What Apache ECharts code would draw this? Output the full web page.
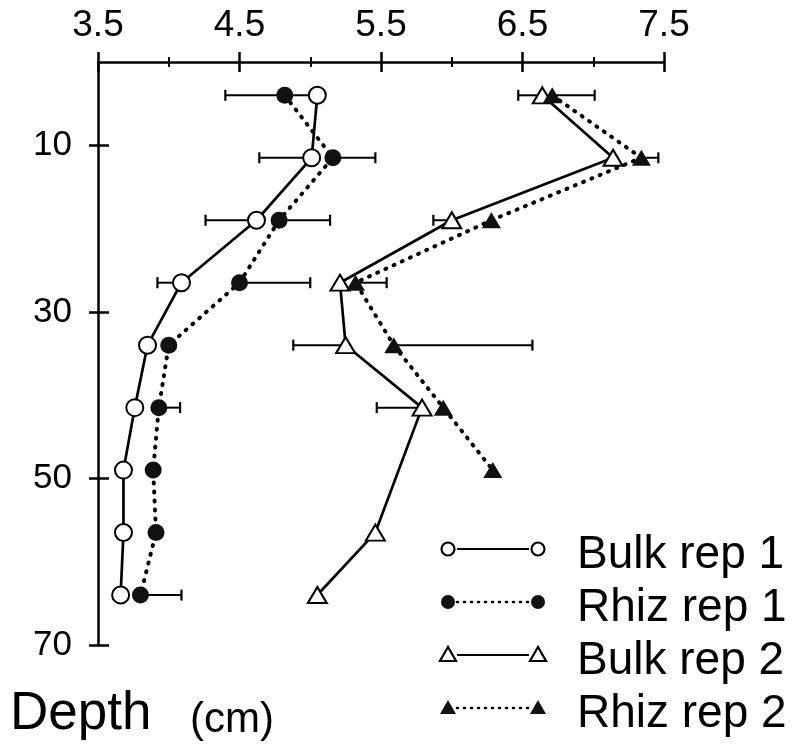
<!DOCTYPE html>
<html>
<head>
<meta charset="utf-8">
<script src="https://cdn.jsdelivr.net/npm/echarts@6/dist/echarts.min.js"></script>
<style>
html,body{margin:0;padding:0;background:#fff;}
#chart{width:794px;height:745px;}
</style>
</head>
<body>
<div id="chart"></div>
<script>
// ---- data ----
const depths = [4, 11.5, 19, 26.5, 34, 41.5, 49, 56.5, 64];
const bulkRep1 = [5.05, 5.01, 4.62, 4.09, 3.85, 3.76, 3.68, 3.68, 3.66];
const rhizRep1 = [4.82, 5.16, 4.78, 4.50, 4.00, 3.93, 3.89, 3.91, 3.80];
const bulkRep2 = [6.64, 7.14, 6.00, 5.21, 5.25, 5.79, null, 5.46, 5.05];
const rhizRep2 = [6.71, 7.34, 6.28, 5.32, 5.59, 5.94, 6.29, null, null];
// error bar ends (one-sided bars as drawn), null = not visible
const bulkRep1End = [4.40, 4.64, 4.26, 3.92, null, null, null, null, null];
const rhizRep1End = [null, 5.46, 5.14, 5.00, null, 4.08, null, null, 4.09];
const bulkRep2End = [6.47, null, 5.87, null, 4.88, 5.47, null, null, null];
const rhizRep2End = [7.01, 7.46, null, 5.54, 6.57, null, null, null, null];
const xTicks = [3.5, 4.5, 5.5, 6.5, 7.5];
const yTicks = [10, 30, 50, 70];
const seriesNames = ['Bulk rep 1', 'Rhiz rep 1', 'Bulk rep 2', 'Rhiz rep 2'];
const axisTitle = 'Depth';
const axisUnit = '(cm)';

// ---- build ----
const FONT = '"Liberation Sans", Arial, sans-serif';
function pairs(vals) {
  const out = [];
  depths.forEach((d, i) => { if (vals[i] != null) out.push([vals[i], d]); });
  return out;
}
function errs(vals, ends) {
  const out = [];
  depths.forEach((d, i) => { if (vals[i] != null && ends[i] != null) out.push([d, vals[i], ends[i]]); });
  return out;
}
const errData = [].concat(
  errs(bulkRep1, bulkRep1End), errs(rhizRep1, rhizRep1End),
  errs(bulkRep2, bulkRep2End), errs(rhizRep2, rhizRep2End));

const solid = {color: '#000', width: 2.7, type: 'solid'};
const dotted = {color: '#000', width: 4, type: [1, 8], cap: 'round'};

function lineSeries(name, vals, symbol, size, filled, ls) {
  return {
    name: name, type: 'line', xAxisIndex: 0, yAxisIndex: 0,
    data: pairs(vals), symbol: symbol, symbolSize: size, showSymbol: true,
    connectNulls: true, silent: true, animation: false, z: 3,
    lineStyle: ls,
    itemStyle: filled ? {color: '#111', borderWidth: 0}
                      : {color: '#000', borderColor: '#000', borderWidth: 2.5},
    emphasis: {disabled: true}
  };
}

const xAxisBase = {
  type: 'value', position: 'top', min: xTicks[0], max: xTicks[xTicks.length - 1], interval: 1,
  splitLine: {show: false}
};
const yAxisBase = {
  type: 'value', position: 'left', inverse: true, min: 0, max: 70, interval: 10,
  splitLine: {show: false}
};

// legend drawn as graphics (symbol — line — symbol  text)
const legendX1 = 448, legendX2 = 538, legendTextX = 577;
const legendBase = [570, 623, 676, 729];
const legendGraphics = [];
seriesNames.forEach((name, i) => {
  const cy = legendBase[i] - 21;
  const isDot = (i % 2 === 1);
  legendGraphics.push({
    type: 'line', shape: {x1: legendX1 + 9, y1: cy, x2: legendX2 - 9, y2: cy},
    style: isDot ? {stroke: '#000', lineWidth: 2.5, lineDash: [1, 6], lineCap: 'round'}
                 : {stroke: '#000', lineWidth: 2}
  });
  [legendX1, legendX2].forEach(cx => {
    if (i < 2) {
      legendGraphics.push({
        type: 'circle', shape: {cx: cx, cy: cy, r: i === 0 ? 6.5 : 7},
        style: i === 0 ? {fill: '#fff', stroke: '#000', lineWidth: 2.2} : {fill: '#111'}
      });
    } else {
      legendGraphics.push({
        type: 'polygon', shape: {points: [[cx, cy - 8], [cx - 8, cy + 6], [cx + 8, cy + 6]]},
        style: i === 2 ? {fill: '#fff', stroke: '#000', lineWidth: 2.2} : {fill: '#111'}
      });
    }
  });
  legendGraphics.push({
    type: 'text', x: legendTextX, y: legendBase[i] - 0.31 * 46,
    style: {text: name, font: '46px ' + FONT, fill: '#000', verticalAlign: 'middle', align: 'left'}
  });
});
legendGraphics.push({
  type: 'text', x: 10, y: 731 - 0.31 * 53,
  style: {text: axisTitle, font: '53px ' + FONT, fill: '#000', verticalAlign: 'middle', align: 'left'}
});
legendGraphics.push({
  type: 'text', x: 190, y: 733 - 0.31 * 42,
  style: {text: axisUnit, font: '42px ' + FONT, fill: '#000', verticalAlign: 'middle', align: 'left'}
});

const option = {
  backgroundColor: '#fff',
  animation: false,
  grid: {left: 98, right: 130, top: 62, bottom: 100, containLabel: false},
  xAxis: [
    Object.assign({}, xAxisBase, {
      axisLine: {show: true, onZero: false, lineStyle: {color: '#000', width: 2.5}},
      axisTick: {show: true, inside: false, length: 10, lineStyle: {color: '#000', width: 2.5}},
      minorTick: {show: true, splitNumber: 2, length: 5, lineStyle: {color: '#000', width: 2}},
      axisLabel: {show: true, margin: 18, color: '#000', fontSize: 37, fontFamily: FONT,
                  customValues: xTicks}
    }),
    Object.assign({}, xAxisBase, {
      axisLine: {show: false},
      axisTick: {show: true, inside: true, length: 10, lineStyle: {color: '#000', width: 2.5}},
      minorTick: {show: true, splitNumber: 2, length: 5, lineStyle: {color: '#000', width: 2}},
      axisLabel: {show: false}
    })
  ],
  yAxis: [
    Object.assign({}, yAxisBase, {
      axisLine: {show: true, onZero: false, lineStyle: {color: '#000', width: 2.5}},
      axisTick: {show: true, inside: false, length: 9, customValues: yTicks,
                 lineStyle: {color: '#000', width: 2.5}},
      axisLabel: {show: true, margin: 26, color: '#000', fontSize: 35, fontFamily: FONT,
                  customValues: yTicks}
    }),
    Object.assign({}, yAxisBase, {
      axisLine: {show: false},
      axisTick: {show: true, inside: true, length: 11, customValues: yTicks,
                 lineStyle: {color: '#000', width: 2.5}},
      axisLabel: {show: false}
    })
  ],
  series: [
    {
      type: 'custom', xAxisIndex: 0, yAxisIndex: 0, z: 1, silent: true,
      data: errData, encode: {x: [1, 2], y: 0},
      renderItem: function (params, api) {
        const d = api.value(0), m = api.value(1), e = api.value(2);
        const p0 = api.coord([m, d]);
        const p1 = api.coord([e, d]);
        return {
          type: 'group',
          children: [
            {type: 'line', shape: {x1: p0[0], y1: p0[1], x2: p1[0], y2: p1[1]},
             style: {stroke: '#000', lineWidth: 2}},
            {type: 'line', shape: {x1: p1[0], y1: p1[1] - 5.5, x2: p1[0], y2: p1[1] + 5.5},
             style: {stroke: '#000', lineWidth: 2.2}}
          ]
        };
      }
    },
    lineSeries(seriesNames[0], bulkRep1, 'emptyCircle', 17, false, solid),
    lineSeries(seriesNames[1], rhizRep1, 'circle', 17, true, dotted),
    lineSeries(seriesNames[2], bulkRep2, 'emptyTriangle', [19, 16], false, solid),
    lineSeries(seriesNames[3], rhizRep2, 'triangle', [19, 16], true, dotted)
  ],
  graphic: legendGraphics
};

const chart = echarts.init(document.getElementById('chart'), null, {renderer: 'canvas'});
chart.setOption(option);
</script>
</body>
</html>
